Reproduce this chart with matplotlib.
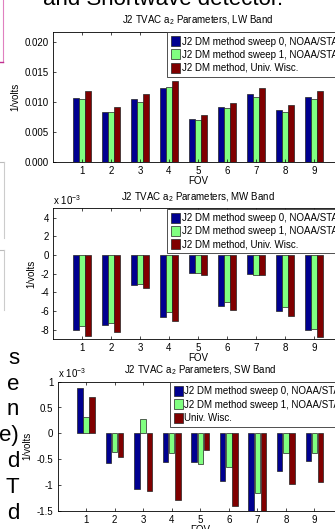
import matplotlib
matplotlib.use('Agg')
import matplotlib.pyplot as plt
import numpy as np
from matplotlib.lines import Line2D
from matplotlib.ticker import FuncFormatter

plt.rcParams['font.family'] = ['Liberation Sans', 'DejaVu Sans']
plt.rcParams['font.size'] = 7
plt.rcParams['axes.unicode_minus'] = False
plt.rcParams['mathtext.fontset'] = 'custom'
plt.rcParams['mathtext.rm'] = 'Liberation Sans'

W, H = 335, 529

fov = [1, 2, 3, 4, 5, 6, 7, 8, 9]

# a2 coefficients, 1/volts
lw_sweep0 = [0.01078, 0.00839, 0.0105, 0.01239, 0.00728, 0.00917, 0.01139, 0.00872, 0.01089]
lw_sweep1 = [0.01056, 0.00839, 0.01006, 0.01256, 0.00706, 0.00900, 0.01089, 0.00833, 0.01061]
lw_uw = [0.01183, 0.00917, 0.01139, 0.01356, 0.00789, 0.00989, 0.01239, 0.00961, 0.01183]

mw_sweep0 = [-8.0e-3, -7.5e-3, -3.2e-3, -6.7e-3, -1.9e-3, -5.5e-3, -2.0e-3, -6.0e-3, -8.0e-3]
mw_sweep1 = [-7.6e-3, -7.3e-3, -3.1e-3, -6.1e-3, -1.9e-3, -5.0e-3, -2.1e-3, -5.6e-3, -7.9e-3]
mw_uw = [-8.7e-3, -8.3e-3, -3.5e-3, -7.1e-3, -2.2e-3, -5.9e-3, -2.2e-3, -6.5e-3, -8.75e-3]

sw_sweep0 = [0.87e-3, -0.57e-3, -1.07e-3, -0.55e-3, -0.55e-3, -0.93e-3, -1.6e-3, -0.73e-3, -0.54e-3]
sw_sweep1 = [0.31e-3, -0.36e-3, 0.28e-3, -0.39e-3, -0.60e-3, -0.65e-3, -1.16e-3, -0.39e-3, -0.39e-3]
sw_uw = [0.71e-3, -0.45e-3, -1.12e-3, -1.29e-3, -0.32e-3, -1.40e-3, -1.55e-3, -0.99e-3, -0.95e-3]

labels_dm = ['J2 DM method sweep 0, NOAA/STAR',
             'J2 DM method sweep 1, NOAA/STAR',
             'J2 DM method, Univ. Wisc.']
labels_sw = ['J2 DM method sweep 0, NOAA/STAR',
             'J2 DM method sweep 1, NOAA/STAR',
             'Univ. Wisc.']

colors = ['#000090', '#80ff80', '#800000']
offsets = [-0.215, 0.0, 0.215]


def px_axes(fig, left, top, right, bottom):
    return fig.add_axes([left / W, 1 - bottom / H, (right - left) / W, (bottom - top) / H])


def draw_band(ax, series, labels, title, ylim, yticks, scale=None):
    x = np.array(fov)
    for vals, off, col, lab in zip(series, offsets, colors, labels):
        ax.bar(x + off, vals, width=0.19, color=col, edgecolor='#222222',
               linewidth=0.5, label=lab)
    ax.set_xlim(0, 10)
    ax.set_ylim(*ylim)
    ax.set_xticks(fov)
    ax.set_yticks(yticks)
    if scale is not None:
        ax.yaxis.set_major_formatter(FuncFormatter(lambda v, p: '%g' % round(v / scale, 6)))
        ax.text(0.0, 1.01, 'x 10$^{-3}$', transform=ax.transAxes, fontsize=7,
                ha='left', va='bottom')
    ax.tick_params(direction='in', length=2.5, width=0.5, top=True, right=True, pad=3)
    for s in ax.spines.values():
        s.set_linewidth(0.6)
    ax.set_title(title, fontsize=7, pad=6)
    ax.set_xlabel('FOV', labelpad=0)
    ax.set_ylabel('1/volts', labelpad=3)
    leg = ax.legend(loc='upper left', bbox_to_anchor=(0.393, 0.995), fontsize=7,
                    fancybox=False, framealpha=1, edgecolor='#333333',
                    handlelength=0.95, handleheight=1.2, handletextpad=0.15,
                    labelspacing=0.3, borderpad=0.4, borderaxespad=0)
    leg.get_frame().set_linewidth(0.6)


fig = plt.figure(figsize=(W / 100, H / 100), dpi=100)

ax1 = px_axes(fig, 53, 31.7, 343, 162.3)
draw_band(ax1, [lw_sweep0, lw_sweep1, lw_uw], labels_dm,
          'J2 TVAC a$_2$ Parameters, LW Band', (0, 0.02177),
          [0, 0.005, 0.01, 0.015, 0.02])

ax2 = px_axes(fig, 53, 208.3, 343, 338.9)
draw_band(ax2, [mw_sweep0, mw_sweep1, mw_uw], labels_dm,
          'J2 TVAC a$_2$ Parameters, MW Band', (-9e-3, 5e-3),
          [-8e-3, -6e-3, -4e-3, -2e-3, 0, 2e-3, 4e-3], scale=1e-3)

ax3 = px_axes(fig, 57.5, 381.7, 343, 510.7)
draw_band(ax3, [sw_sweep0, sw_sweep1, sw_uw], labels_sw,
          'J2 TVAC a$_2$ Parameters, SW Band', (-1.5e-3, 1e-3),
          [-1.5e-3, -1e-3, -0.5e-3, 0, 0.5e-3, 1e-3], scale=1e-3)

# surrounding page text
fig.text(43 / W, 1 - 5 / H, 'and Shortwave detector.', fontsize=16,
         ha='left', va='baseline')
for y, s in zip([364, 390, 415, 441, 467, 493, 519], ['s', 'e', 'n', 'e)', 'd', 'T', 'd']):
    fig.text(19 / W, 1 - y / H, s, fontsize=16, ha='right', va='baseline')

# edges of neighbouring figures
def seg(x0, y0, x1, y1, color, lw=0.8):
    fig.add_artist(Line2D([x0 / W, x1 / W], [1 - y0 / H, 1 - y1 / H], color=color, lw=lw))

seg(3, 0, 3, 62, '#e080c0')
seg(0, 62, 3, 62, '#c03090', 1.0)
seg(0, 162, 4, 162, '#bbbbbb')
seg(4, 162, 4, 238, '#cccccc')
seg(0, 250, 4, 250, '#bbbbbb')
seg(4, 250, 4, 310, '#cccccc')

fig.savefig('out.png', dpi=100)
